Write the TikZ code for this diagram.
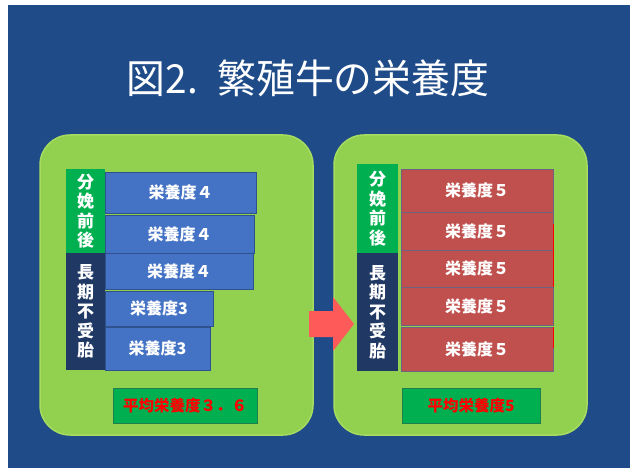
\documentclass[tikz,border=0pt]{standalone}
\usepackage{fontspec}
\newfontfamily\jp{Noto Sans CJK JP}
\definecolor{bgblue}{HTML}{1F4C89}
\definecolor{panelgreen}{HTML}{92D050}
\definecolor{panelrim}{HTML}{A6DC60}
\definecolor{tagGreen}{HTML}{00B050}
\definecolor{tagNavy}{HTML}{1F3864}
\definecolor{barBlue}{HTML}{4472C4}
\definecolor{barBlueLine}{HTML}{2F528F}
\definecolor{barRed}{HTML}{C0504D}
\definecolor{barRedLine}{HTML}{6E6283}
\definecolor{arrowRed}{HTML}{FF5A5A}
\definecolor{avgLine}{HTML}{1F7F4F}
\tikzset{
  panel/.style={fill=panelgreen, draw=panelrim, line width=1.5pt, rounded corners=30pt},
  box/.style={inner sep=0pt, outer sep=0pt, anchor=north west},
  bluebar/.style={box, fill=barBlue, draw=barBlueLine, line width=0.8pt, text=white, font=\jp\bfseries\fontsize{16}{18}\selectfont},
  redbar/.style={box, fill=barRed, draw=barRedLine, line width=0.8pt, text=white, font=\jp\bfseries\fontsize{16}{18}\selectfont},
  tag/.style={box, text=white, align=center, font=\jp\bfseries\fontsize{17}{19.5}\selectfont},
  avg/.style={box, fill=tagGreen, draw=avgLine, line width=1pt, text=red, font=\jp\bfseries\fontsize{15.5}{18}\selectfont},
}
\begin{document}
\begin{tikzpicture}[x=1pt,y=-1pt]
\useasboundingbox (0,0) rectangle (630,468);
\fill[bgblue] (8,5) rectangle (630,468);
% title
\node[text=white, font=\jp\fontsize{40}{42}\selectfont, inner sep=0pt, xscale=0.97] (title) at (308,78) {図2.\hspace{20pt}繁殖牛の栄養度};
% panels
\draw[panel] (40,135) rectangle (313,435);
\draw[panel] (334,135) rectangle (587,435);
% left panel
\node[tag, fill=tagGreen, minimum width=39pt, minimum height=84pt] (lpre) at (66,169) {分\\娩\\前\\後};
\node[tag, fill=tagNavy, minimum width=39pt, minimum height=117pt] (llong) at (66,253) {長\\期\\不\\受\\胎};
\node[bluebar, minimum width=151pt, minimum height=41pt] (lb1) at (105,172) {栄養度４};
\node[bluebar, minimum width=149pt, minimum height=38pt] (lb2) at (105,215) {栄養度４};
\node[bluebar, minimum width=148pt, minimum height=36pt] (lb3) at (105,253) {栄養度４};
\node[bluebar, minimum width=108pt, minimum height=35pt] (lb4) at (105,291) {栄養度3};
\node[bluebar, minimum width=105pt, minimum height=43pt] (lb5) at (105,327) {栄養度3};
\node[avg, minimum width=144pt, minimum height=35pt] (lavg) at (113,388) {平均栄養度３．６};
% arrow
\fill[arrowRed] (309,311) -- (333,311) -- (333,297) -- (354,324) -- (333,351) -- (333,337) -- (309,337) -- cycle;
% right panel
\node[tag, fill=tagGreen, minimum width=41pt, minimum height=89pt] (rpre) at (357,164) {分\\娩\\前\\後};
\node[tag, fill=tagNavy, minimum width=41pt, minimum height=118pt] (rlong) at (357,253) {長\\期\\不\\受\\胎};
\node[redbar, minimum width=152pt, minimum height=43pt] (rb1) at (401,169) {栄養度５};
\node[redbar, minimum width=152pt, minimum height=38pt] (rb2) at (401,212) {栄養度５};
\node[redbar, minimum width=152pt, minimum height=37pt] (rb3) at (401,250) {栄養度５};
\node[redbar, minimum width=152pt, minimum height=38pt] (rb4) at (401,287) {栄養度５};
\node[redbar, minimum width=152pt, minimum height=44pt] (rb5) at (401,327) {栄養度５};
\draw[red, line width=1pt] ([yshift=-12pt]rb2.north east) -- (rb3.south east);
\draw[red, line width=1pt] (rb5.north east) -- ([yshift=-21pt]rb5.north east);
\node[avg, minimum width=138pt, minimum height=35pt] (ravg) at (402,388) {平均栄養度5};
\end{tikzpicture}
\end{document}
